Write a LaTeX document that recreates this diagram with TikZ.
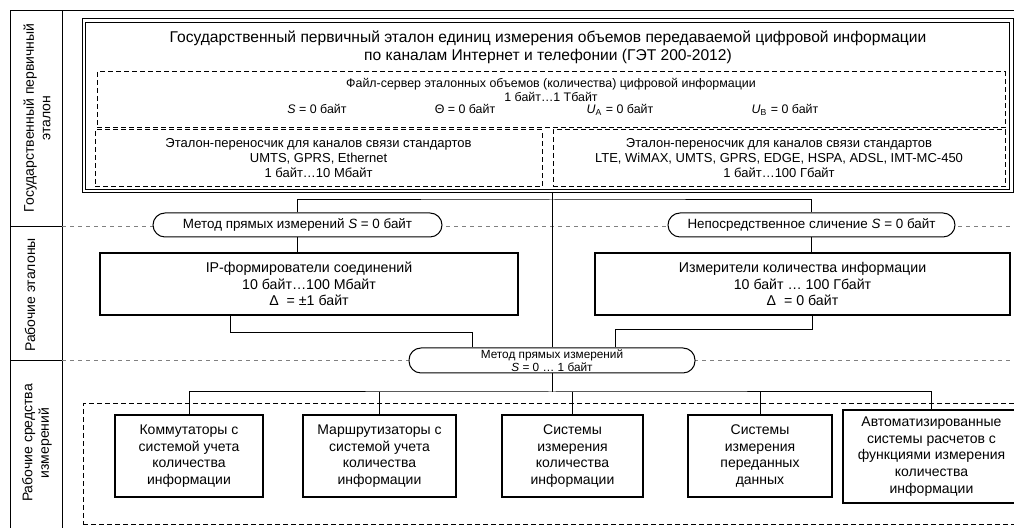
\documentclass[tikz,border=0pt]{standalone}
\usepackage{fontspec}
\setmainfont{Liberation Sans}

\begin{document}
\begin{tikzpicture}[x=0.5pt,y=-0.5pt,line width=0.5pt,
                    font=\fontsize{7}{8.3}\selectfont]
  \tikzstyle{outerbox}=[draw,rectangle,line width=0.5pt,inner sep=0pt]
  \tikzstyle{dashbox}=[draw,rectangle,dash pattern=on 2.5pt off 1.5pt,inner sep=0pt,align=center]
  \tikzstyle{oval}=[draw,rectangle,rounded corners=6pt,fill=white,inner sep=0pt,align=center,
                    font=\fontsize{6.7}{7.5}\selectfont]
  \tikzstyle{thickbox}=[draw,rectangle,line width=1.2pt,fill=white,inner sep=0pt,align=center]
  \tikzstyle{sep}=[gray,dash pattern=on 2pt off 2pt]
  \tikzstyle{small}=[inner sep=0pt,font=\fontsize{6.2}{6.6}\selectfont]

  \clip (0,0) rectangle (1014,528);
  \fill[white] (0,0) rectangle (1014,528);

  \draw (1014,11) -- (10,11) -- (10,528);
  \draw (62,11) -- (62,528);
  \draw (10,227) -- (62,227);
  \draw (10,361) -- (62,361);
  \draw[sep] (62,227) -- (1014,227);
  \draw[sep] (62,361) -- (1014,361);

  \node[rotate=90,align=center] (lvl1) at (37,118) {Государственный первичный\\эталон};
  \node[rotate=90] (lvl2) at (30,295) {Рабочие эталоны};
  \node[rotate=90,align=center] (lvl3) at (37,443) {Рабочие средства\\измерений};

  \node[outerbox,minimum width=465.5pt,minimum height=87pt] (gse) at (547.5,106) {};
  \draw ([shift={(2pt,-2pt)}]gse.north west) rectangle ([shift={(-2pt,2pt)}]gse.south east);
  \node[align=center,font=\fontsize{7.8}{9}\selectfont] (gsetitle) at (548,47)
    {Государственный первичный эталон единиц измерения объемов передаваемой цифровой информации\\
     по каналам Интернет и телефонии (ГЭТ 200-2012)};

  \node[dashbox,minimum width=454pt,minimum height=28pt] (fserv) at (551,100) {};
  \node[small,align=center] (fservtxt) at (551,90)
    {Файл-сервер эталонных объемов (количества) цифровой информации\\1 байт…1 Тбайт};
  \node[small,anchor=base] (valS) at (317,114) {\textit{S} = 0 байт};
  \node[small,anchor=base] (valT) at (465,114) {Θ = 0 байт};
  \node[small,anchor=base] (valUA) at (620,114) {\textit{U}\textsubscript{A} = 0 байт};
  \node[small,anchor=base] (valUB) at (785,114) {\textit{U}\textsubscript{B} = 0 байт};

  \node[dashbox,minimum width=223.5pt,minimum height=28.5pt,font=\fontsize{6.5}{7.5}\selectfont]
    (carl) at (318.5,158.5) {Эталон-переносчик для каналов связи стандартов\\UMTS, GPRS, Ethernet\\1 байт…10 Мбайт};
  \node[dashbox,minimum width=226pt,minimum height=28.5pt,font=\fontsize{6.5}{7.5}\selectfont]
    (carr) at (779,158.5) {Эталон-переносчик для каналов связи стандартов\\LTE, WiMAX, UMTS, GPRS, EDGE, HSPA, ADSL, IMT-MC-450\\1 байт…100 Гбайт};

  \node[oval,minimum width=144.5pt,minimum height=12pt] (meth1) at (297.5,225)
    {Метод прямых измерений \textit{S} = 0 байт};
  \node[oval,minimum width=143.5pt,minimum height=12pt] (compare) at (811.5,225)
    {Непосредственное сличение \textit{S} = 0 байт};

  \node[thickbox,minimum width=209pt,minimum height=31pt,font=\fontsize{7.1}{8.3}\selectfont]
    (ipgen) at (309,284) {IP-формирователи соединений\\10 байт…100 Мбайт\\Δ~~= ±1 байт};
  \node[thickbox,minimum width=207.5pt,minimum height=31pt,font=\fontsize{7.1}{8.3}\selectfont]
    (meter) at (802.5,284) {Измерители количества информации\\10 байт … 100 Гбайт\\Δ~~= 0 байт};

  \node[oval,minimum width=143pt,minimum height=12.5pt,font=\fontsize{5.9}{6.5}\selectfont]
    (meth2) at (552,360.5) {Метод прямых измерений\\\textit{S} = 0 … 1 байт};

  \node[dashbox,minimum width=468.5pt,minimum height=60.5pt] (wsm) at (551.5,464.5) {};

  \node[thickbox,minimum width=74pt,minimum height=41pt] (box1) at (189,456)
    {Коммутаторы с\\системой учета\\количества\\информации};
  \node[thickbox,minimum width=76.5pt,minimum height=41pt] (box2) at (379.5,456)
    {Маршрутизаторы с\\системой учета\\количества\\информации};
  \node[thickbox,minimum width=70.5pt,minimum height=41pt] (box3) at (572.5,456)
    {Системы\\измерения\\количества\\информации};
  \node[thickbox,minimum width=72pt,minimum height=41pt] (box4) at (760,456)
    {Системы\\измерения\\переданных\\данных};
  \node[thickbox,line width=0.9pt,minimum width=88.5pt,minimum height=46.5pt] (box5) at (931.5,456.5)
    {Автоматизированные\\системы расчетов с\\функциями измерения\\количества\\информации};

  \coordinate (bus1) at (552,200);
  \coordinate (j1) at (230,333);
  \coordinate (j2) at (472,333);
  \coordinate (j3) at (812,330);
  \coordinate (j4) at (615,330);
  \coordinate (bus2) at (552,392);

  \draw (meth2.north |- gse.south) -- (meth2.north);
  \draw (meth1.north) |- (bus1) -| (compare.north);
  \draw (meth1.south) -- (meth1.south |- ipgen.north);
  \draw (compare.south) -- (compare.south |- meter.north);
  \draw (j1 |- ipgen.south) -- (j1) -- (j2) -- (j2 |- meth2.north);
  \draw (j3 |- meter.south) -- (j3) -- (j4) -- (j4 |- meth2.north);
  \draw (meth2.south) -- (bus2);
  \draw (box1.north) |- (bus2) -| (box5.north);
  \draw (box2.north) -- (box2.north |- bus2);
  \draw (box3.north) -- (box3.north |- bus2);
  \draw (box4.north) -- (box4.north |- bus2);

\end{tikzpicture}
\end{document}
